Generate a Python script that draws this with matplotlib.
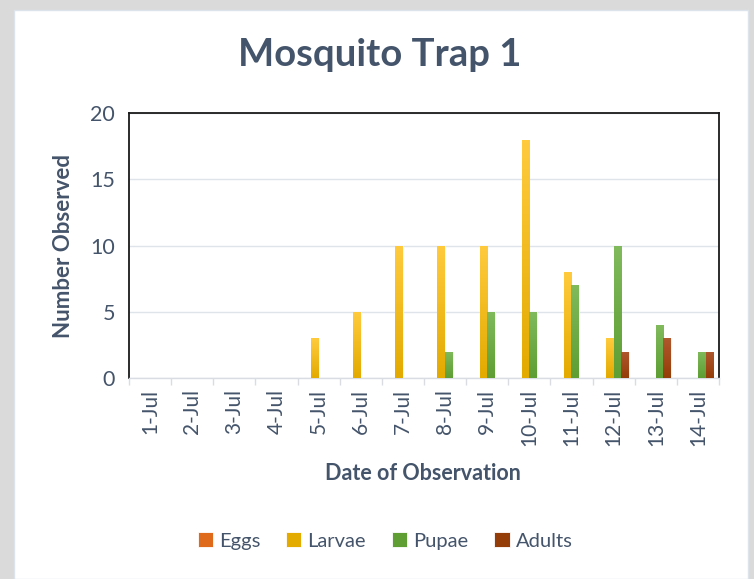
import matplotlib
matplotlib.use("Agg")
import matplotlib.pyplot as plt
import numpy as np
from matplotlib.patches import Rectangle
from matplotlib.colors import LinearSegmentedColormap

dates = ["1-Jul", "2-Jul", "3-Jul", "4-Jul", "5-Jul", "6-Jul", "7-Jul",
         "8-Jul", "9-Jul", "10-Jul", "11-Jul", "12-Jul", "13-Jul", "14-Jul"]
eggs   = [0, 0, 0, 0, 0, 0, 0, 0, 0, 0, 0, 0, 0, 0]
larvae = [0, 0, 0, 0, 3, 5, 10, 10, 10, 18, 8, 3, 0, 0]
pupae  = [0, 0, 0, 0, 0, 0, 0, 2, 5, 5, 7, 10, 4, 2]
adults = [0, 0, 0, 0, 0, 0, 0, 0, 0, 0, 0, 2, 3, 2]
series_names = ["Eggs", "Larvae", "Pupae", "Adults"]

txt = "#44546A"
fam = ["Lato", "DejaVu Sans"]
plt.rcParams["font.family"] = fam

fig = plt.figure(figsize=(7.54, 5.79), dpi=100)
fig.patch.set_facecolor("#dadada")
fig.patches.append(Rectangle((14/754, 0), (748-14)/754, (579-10)/579,
                             transform=fig.transFigure, facecolor="white",
                             edgecolor="#dde3ea", lw=1.0, zorder=0))

ax = fig.add_axes([129/754, 1-378/579, (719-129)/754, (378-113)/579])
ax.set_zorder(2)

x = np.arange(len(dates))
w = 0.18
cols = [("#F4914E", "#E06A1B"), ("#FFCB3D", "#E3AA00"),
        ("#80BA5C", "#5E9E33"), ("#B0582E", "#953D08")]
data = [eggs, larvae, pupae, adults]
offs = [-1.5, -0.5, 0.5, 1.5]
handles = []
for vals, (ctop, cbot), off, name in zip(data, cols, offs, series_names):
    bars = ax.bar(x + off*w, vals, width=w, color=cbot, edgecolor="white",
                  linewidth=0.6, label=name, zorder=3)
    cmap = LinearSegmentedColormap.from_list("g", [cbot, ctop])
    grad = np.linspace(0, 1, 64).reshape(-1, 1)
    for b in bars:
        h = b.get_height()
        if h <= 0:
            continue
        im = ax.imshow(grad, cmap=cmap, origin="lower", aspect="auto",
                       extent=(b.get_x(), b.get_x()+b.get_width(), 0, h),
                       zorder=3.5)
        im.set_clip_path(b)
    handles.append(bars)

ax.set_xlim(-0.5, len(dates)-0.5)
ax.set_ylim(0, 20)
ax.set_yticks([0, 5, 10, 15, 20])
ax.yaxis.grid(True, color="#dfe3ea", lw=1.0, zorder=0)
ax.set_axisbelow(True)

ax.set_xticks(x)
ax.set_xticklabels(dates, rotation=90, fontsize=15, color=txt)
ax.set_xticks(np.arange(-0.5, len(dates)), minor=True)
ax.tick_params(axis="x", which="major", length=0, pad=8)
ax.tick_params(axis="x", which="minor", length=5, color="#d9dde3", width=1)
ax.tick_params(axis="y", length=0, pad=10, labelsize=15.5, labelcolor=txt)

for s in ["left", "top", "right"]:
    ax.spines[s].set_color("#1a1a1a")
    ax.spines[s].set_linewidth(1.3)
ax.spines["bottom"].set_color("#d9dde3")
ax.spines["bottom"].set_linewidth(1.0)

ax.set_ylabel("Number Observed", fontsize=16, fontweight="bold", color=txt, labelpad=12)
fig.text(423/754, 1-473/579, "Date of Observation", fontsize=15.5,
         fontweight="bold", color=txt, ha="center", va="center")
fig.text(380/754, 1-55/579, "Mosquito Trap 1", fontsize=27.5,
         fontweight="bold", color=txt, ha="center", va="center")

leg = fig.legend(handles, series_names, loc="center", bbox_to_anchor=(385/754, 1-541/579),
                 ncol=4, frameon=False, fontsize=14.5, handlelength=0.75,
                 handleheight=0.75, handletextpad=0.3, columnspacing=1.3)
for t in leg.get_texts():
    t.set_color(txt)

fig.savefig("out.png", dpi=100, facecolor=fig.get_facecolor())
